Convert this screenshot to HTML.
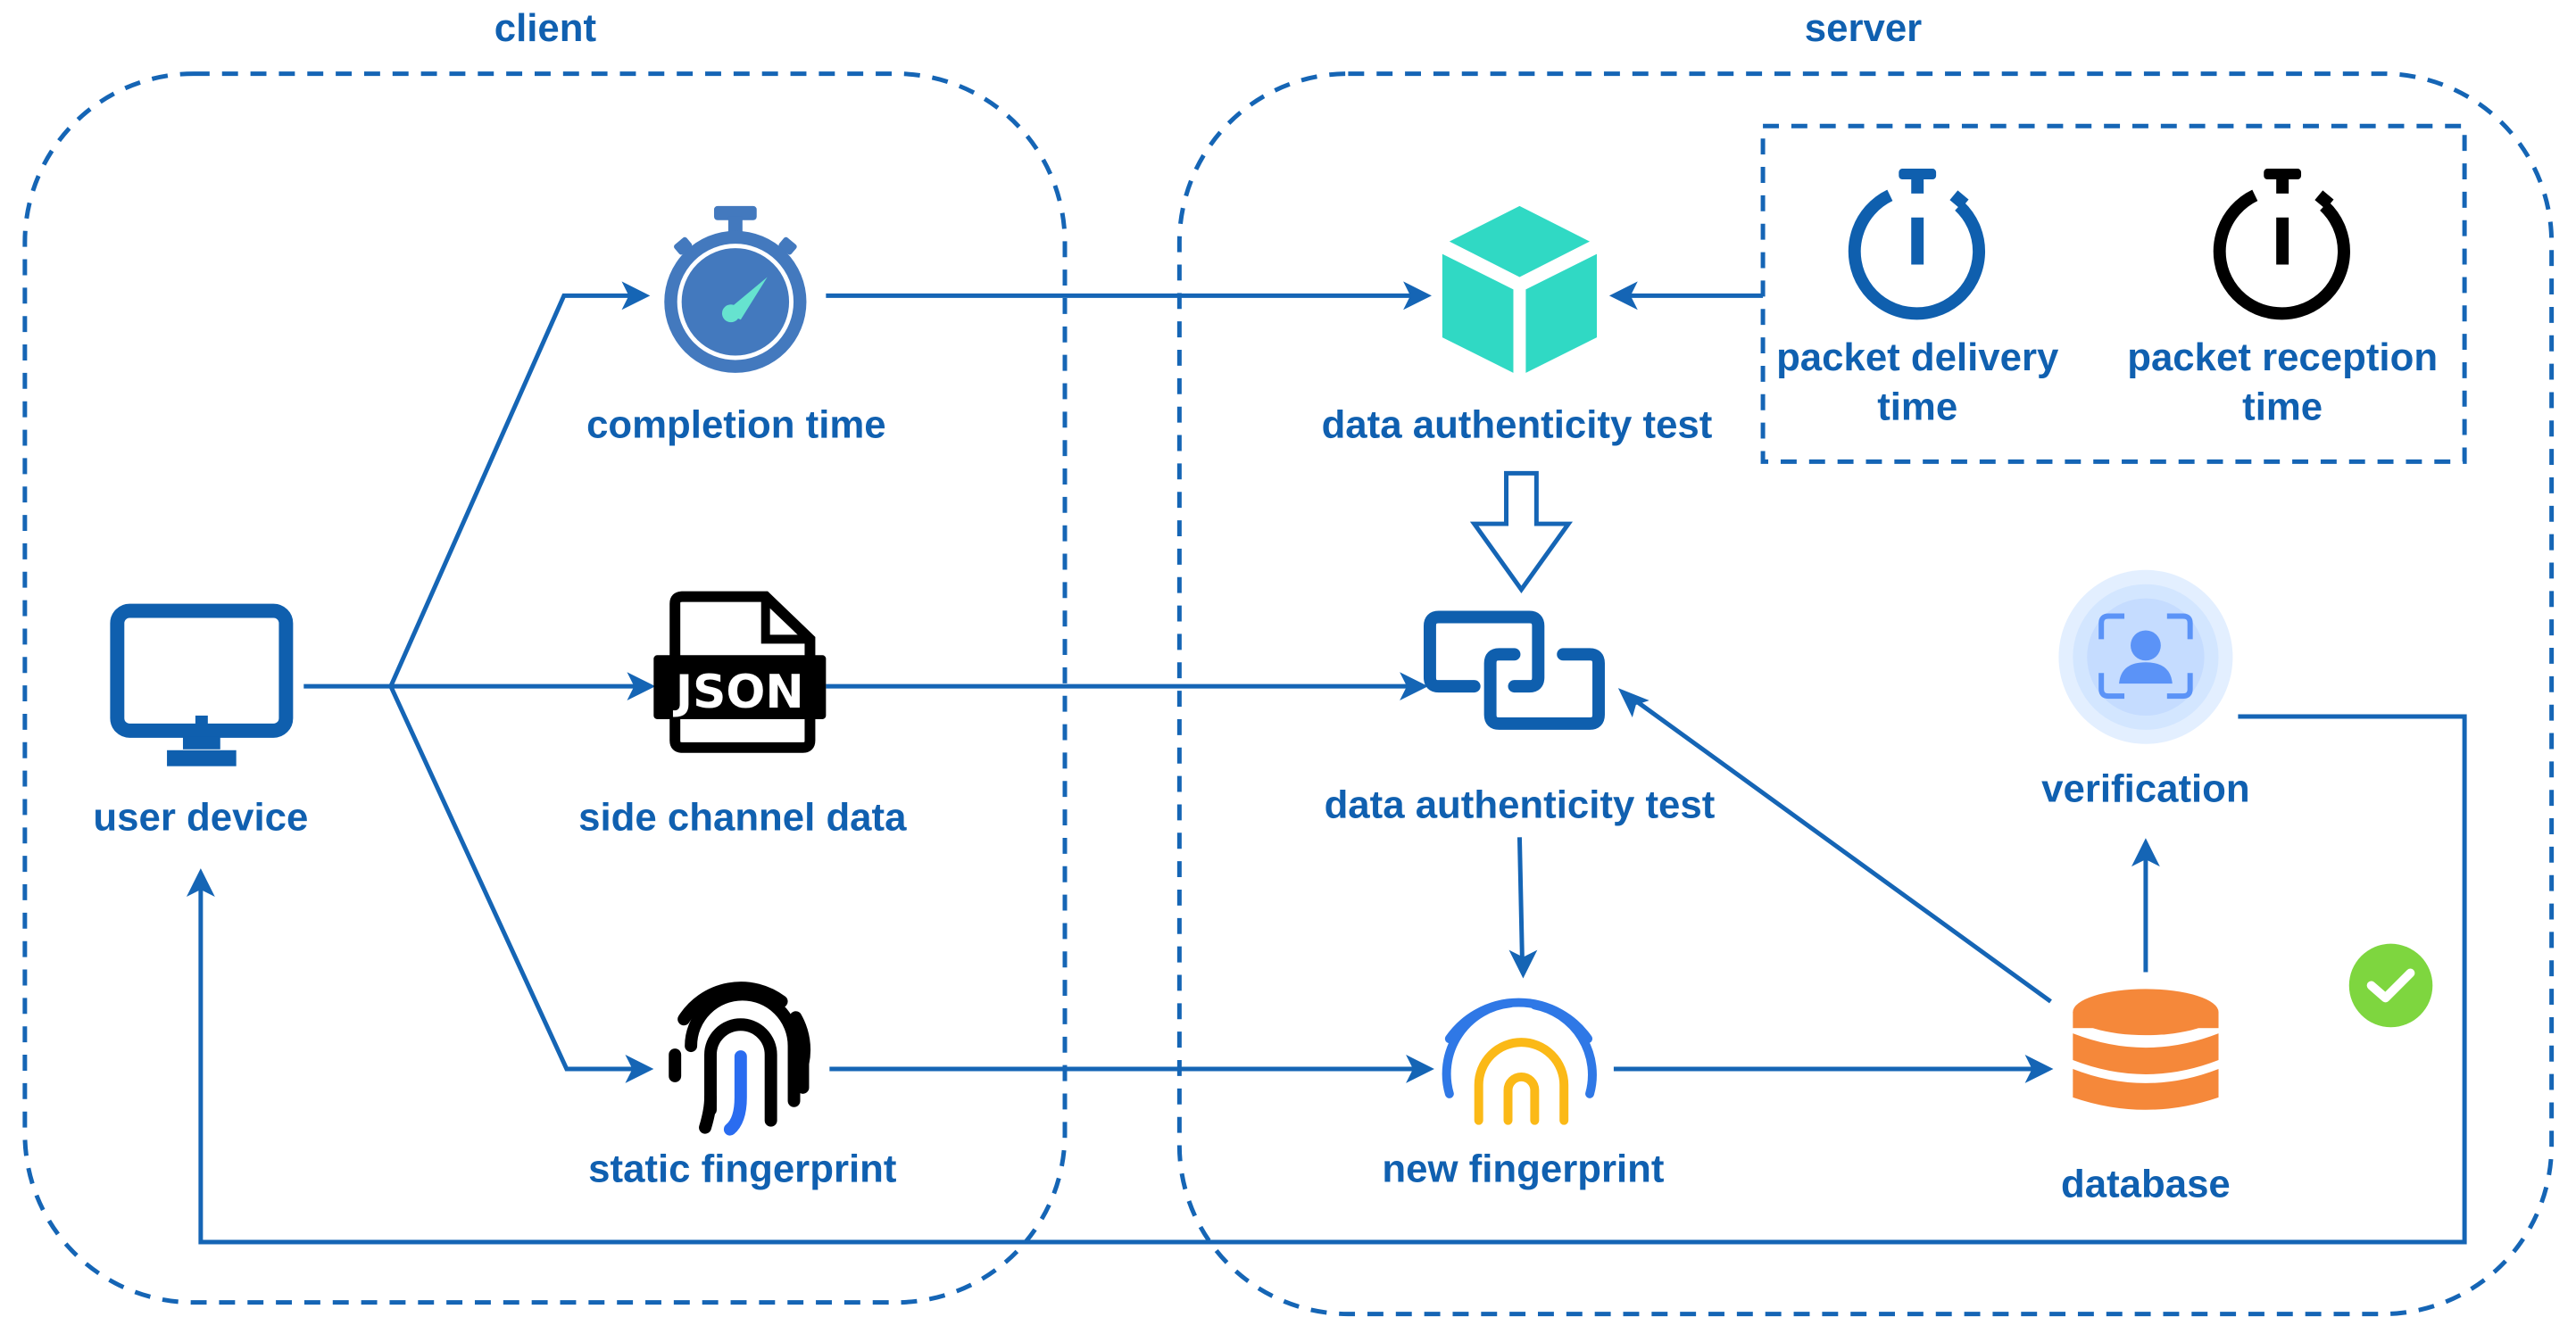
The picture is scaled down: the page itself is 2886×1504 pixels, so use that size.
<!DOCTYPE html>
<html><head><meta charset="utf-8"><style>
html,body{margin:0;padding:0;background:#fff;}
svg{display:block;}
text{font-family:"Liberation Sans",Arial,sans-serif;font-weight:bold;fill:#1060b0;font-size:44px;text-anchor:middle;}
</style></head><body>
<svg width="2886" height="1504" viewBox="0 0 2886 1504" xmlns="http://www.w3.org/2000/svg">
<g transform="scale(0.995)">
<g fill="none" stroke="#1565b5" stroke-width="5" stroke-dasharray="18 14">
<rect x="28" y="83" width="1171" height="1384" rx="190"/>
<rect x="1328" y="83" width="1545" height="1397" rx="190"/>
<rect x="1985" y="142" width="790" height="378"/>
</g>
<text x="614" y="46">client</text>
<text x="2098" y="46">server</text>

<g fill="none" stroke="#1565b5" stroke-width="5">
<polyline points="342,773 440,773"/>
<polyline points="440,773 635,333 712,333"/>
<polyline points="440,773 718,773"/>
<polyline points="440,773 638,1204 716,1204"/>
<line x1="930" y1="333" x2="1592" y2="333"/>
<line x1="1985" y1="333" x2="1832" y2="333"/>
<line x1="930" y1="773" x2="1588" y2="773"/>
<line x1="934" y1="1204" x2="1595" y2="1204"/>
<line x1="1817" y1="1204" x2="2292" y2="1204"/>
<line x1="1711" y1="943" x2="1714" y2="1082"/>
<line x1="2416" y1="1095" x2="2416" y2="963"/>
<line x1="2309" y1="1128" x2="1840" y2="788"/>
<polyline points="2520,807 2775,807 2775,1399 226,1399 226,998"/>
</g>
<g fill="#1565b5">
<polygon points="732,333 700,317 708,333 700,349"/>
<polygon points="738,773 706,757 714,773 706,789"/>
<polygon points="736,1204 704,1188 712,1204 704,1220"/>
<polygon points="1612,333 1580,317 1588,333 1580,349"/>
<polygon points="1812,333 1844,317 1836,333 1844,349"/>
<polygon points="1608,773 1576,757 1584,773 1576,789"/>
<polygon points="1615,1204 1583,1188 1591,1204 1583,1220"/>
<polygon points="2312,1204 2280,1188 2288,1204 2280,1220"/>
<polygon points="1715,1102 1699,1070 1715,1078 1731,1070"/>
<polygon points="2416,944 2400,976 2416,968 2432,976"/>
<polygon points="226,978 210,1010 226,1002 242,1010"/>
<polygon points="1822,775 1838,808 1842,794 1857,789"/>
</g>

<g>
<rect x="132" y="688" width="190" height="135" rx="14" fill="none" stroke="#0f5fae" stroke-width="16"/>
<rect x="220" y="806" width="14" height="12" fill="#0f5fae"/>
<rect x="206" y="830" width="42" height="14" fill="#0f5fae"/>
<rect x="188" y="845" width="78" height="18" fill="#0f5fae"/>
</g>
<text x="226" y="935">user device</text>

<g>
<rect x="804" y="232" width="48" height="16" rx="4" fill="#4379be"/>
<rect x="820" y="244" width="16" height="22" fill="#4379be"/>
<rect x="760" y="270" width="18" height="14" rx="3" fill="#4379be" transform="rotate(-40 769 277)"/>
<rect x="878" y="270" width="18" height="14" rx="3" fill="#4379be" transform="rotate(40 887 277)"/>
<circle cx="828" cy="340" r="80" fill="#4379be"/>
<circle cx="828" cy="340" r="63" fill="none" stroke="#fff" stroke-width="5"/>
<polygon points="816,352 864,312 834,360" fill="#66e3cf"/>
<circle cx="823" cy="353" r="10" fill="#66e3cf"/>
</g>
<text x="829" y="493">completion time</text>

<g>
<path d="M760,680 Q760,672 768,672 L862,672 L912,720 L912,834 Q912,842 904,842 L768,842 Q760,842 760,834 Z" fill="none" stroke="#000" stroke-width="12"/>
<path d="M862,672 L862,720 L912,720" fill="none" stroke="#000" stroke-width="10"/>
<rect x="736" y="738" width="194" height="72" rx="4" fill="#000"/>
<text x="833" y="797" style="fill:#fff;font-size:52px;font-family:'DejaVu Sans','Liberation Sans',sans-serif;">JSON</text>
</g>
<text x="836" y="935">side channel data</text>

<g fill="none" stroke-linecap="round" stroke-width="14">
<path d="M778,1178 A58,58 0 0 1 894,1178 L894,1240" stroke="#000"/>
<path d="M800,1250 L800,1188 A34,34 0 0 1 868,1188 L868,1262" stroke="#000"/>
<path d="M760,1188 L760,1212" stroke="#000"/>
<path d="M896,1146 A74,74 0 0 1 904,1198 L904,1225" stroke="#000"/>
<path d="M770,1148 A76,76 0 0 1 880,1128" stroke="#000"/>
<path d="M834,1190 L834,1236 Q834,1262 822,1272" stroke="#2a6cf0"/>
<path d="M794,1270 Q800,1250 800,1236" stroke="#000"/>
</g>
<text x="836" y="1331">static fingerprint</text>

<g>
<polygon points="1711,232 1790,272 1711,312 1632,272" fill="#30d9c4"/>
<polygon points="1624,286 1704,326 1704,420 1624,380" fill="#30d9c4"/>
<polygon points="1798,286 1718,326 1718,420 1798,380" fill="#30d9c4"/>
</g>
<text x="1708" y="493">data authenticity test</text>

<g fill="none" stroke="#0f5fae" stroke-width="14">
<path d="M2128,220 A70,70 0 1 0 2206,232"/>
<line x1="2159" y1="200" x2="2159" y2="218"/>
<line x1="2159" y1="245" x2="2159" y2="298"/>
</g>
<rect x="2138" y="190" width="42" height="12" rx="4" fill="#0f5fae"/>
<rect x="2198" y="218" width="16" height="14" fill="#0f5fae" transform="rotate(40 2206 225)"/>
<g fill="none" stroke="#000" stroke-width="14">
<path d="M2539,220 A70,70 0 1 0 2617,232"/>
<line x1="2570" y1="200" x2="2570" y2="218"/>
<line x1="2570" y1="245" x2="2570" y2="298"/>
</g>
<rect x="2549" y="190" width="42" height="12" rx="4" fill="#000"/>
<rect x="2609" y="218" width="16" height="14" fill="#000" transform="rotate(40 2617 225)"/>
<text x="2159" y="417">packet delivery</text>
<text x="2159" y="473">time</text>
<text x="2570" y="417">packet reception</text>
<text x="2570" y="473">time</text>

<polygon points="1696,533 1730,533 1730,590 1766,590 1713,664 1660,590 1696,590" fill="#fff" stroke="#1565b5" stroke-width="5"/>

<g fill="none" stroke="#0f5fae" stroke-width="14" stroke-linecap="round">
<path d="M1660,773 L1620,773 Q1610,773 1610,763 L1610,705 Q1610,695 1620,695 L1722,695 Q1732,695 1732,705 L1732,763 Q1732,773 1722,773 L1705,773"/>
<path d="M1705,737 L1688,737 Q1678,737 1678,747 L1678,805 Q1678,815 1688,815 L1790,815 Q1800,815 1800,805 L1800,747 Q1800,737 1790,737 L1760,737"/>
</g>
<text x="1711" y="921">data authenticity test</text>

<g fill="none" stroke-linecap="round" stroke-width="10">
<path d="M1632,1170 A95,95 0 0 1 1788,1170" stroke="#2f78e6"/>
<path d="M1632,1232 A80,80 0 0 1 1700,1130" stroke="#2f78e6"/>
<path d="M1728,1132 A80,80 0 0 1 1790,1232" stroke="#2f78e6"/>
<path d="M1665,1262 L1665,1222 A48,48 0 0 1 1761,1222 L1761,1262" stroke="#fbb917"/>
<path d="M1698,1262 L1698,1228 A15,15 0 0 1 1728,1228 L1728,1262" stroke="#fbb917"/>
</g>
<text x="1715" y="1331">new fingerprint</text>

<g fill="#f5883a">
<ellipse cx="2416" cy="1140" rx="82" ry="26"/>
<rect x="2334" y="1140" width="164" height="18"/>
<path d="M2334,1164 Q2416,1196 2498,1164 L2498,1194 Q2416,1226 2334,1194 Z"/>
<path d="M2334,1204 Q2416,1236 2498,1204 L2498,1236 Q2416,1264 2334,1236 Z"/>
</g>
<text x="2416" y="1348">database</text>

<circle cx="2416" cy="740" r="98" fill="#e3efff"/>
<circle cx="2416" cy="740" r="82" fill="#d3e6ff"/>
<circle cx="2416" cy="740" r="66" fill="#c5dcff"/>
<g fill="none" stroke="#5b93f7" stroke-width="6">
<path d="M2366,720 L2366,702 Q2366,694 2374,694 L2392,694"/>
<path d="M2440,694 L2458,694 Q2466,694 2466,702 L2466,720"/>
<path d="M2366,758 L2366,776 Q2366,784 2374,784 L2392,784"/>
<path d="M2440,784 L2458,784 Q2466,784 2466,776 L2466,758"/>
</g>
<circle cx="2416" cy="727" r="17" fill="#5b93f7"/>
<path d="M2386,770 Q2388,746 2416,746 Q2444,746 2446,770 Z" fill="#5b93f7"/>
<text x="2416" y="903">verification</text>

<circle cx="2692" cy="1110" r="47" fill="#7ed63f"/>
<polyline points="2670,1110 2686,1124 2714,1096" fill="none" stroke="#fff" stroke-width="10" stroke-linecap="round" stroke-linejoin="round"/>
</g>
</svg>
</body></html>
